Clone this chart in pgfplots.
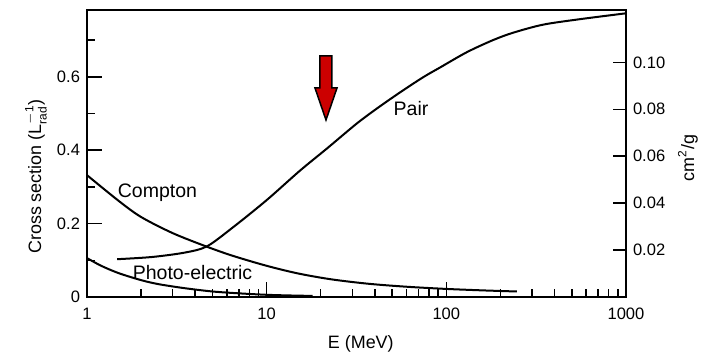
\documentclass[border=0pt]{standalone}
\usepackage{pgfplots}
\pgfplotsset{compat=1.18}
\usepackage{amsmath}
\usepackage{fontspec}
\setmainfont{Liberation Sans}
\definecolor{arrowred}{RGB}{204,0,0}
\begin{document}
\begin{tikzpicture}[x=1bp,y=1bp]
\path[use as bounding box] (-43.5,-28) rectangle (310,148.5);
\begin{axis}[
  scale only axis, width=269.5bp, height=143.5bp,
  at={(0,0)}, anchor=south west,
  xmode=log, xmin=1, xmax=1000,
  tick align=inside,
  /pgf/number format/assume math mode=true,
  tick label style={font=\fontsize{8.3}{10}\selectfont, black},
  label style={font=\fontsize{9}{11}\selectfont},
  axis line style={-, line width=0.75bp, black},
  tick style={line width=0.75bp, black},
  ymin=0, ymax=0.782,
  xtick={1,10,100,1000}, xticklabels={1,10,100,1000},
  minor xtick={2,3,4,5,6,7,8,9,20,30,40,50,60,70,80,90,200,300,400,500,600,700,800,900},
  ytick={0,0.2,0.4,0.6}, yticklabels={0,0.2,0.4,0.6},
  minor ytick={0.1,0.3,0.5,0.7},
  xtick pos=left, ytick pos=left,
  major tick length=7.5bp, minor tick length=4bp,
  xticklabel style={yshift=-2bp},
  xlabel={E (MeV)},
  xlabel style={at={(axis description cs:0.508,-0.165)}, anchor=center},
  ylabel={Cross section (L$^{-\text{1}}_{\text{rad}}$)},
  ylabel style={at={(axis description cs:-0.0946,0.42)}, anchor=center},
]
% Compton
\addplot[smooth, tension=0.5, line width=1bp, black] coordinates {
(1,0.332) (1.5,0.262) (2,0.218) (3,0.174) (4.65,0.137) (6.5,0.112) (10,0.085)
(15,0.064) (23,0.048) (37,0.036) (60,0.028) (100,0.022) (160,0.018) (247,0.015)};
% Photo-electric
\addplot[smooth, tension=0.5, line width=1bp, black] coordinates {
(1,0.106) (1.2,0.085) (1.5,0.065) (2,0.046) (2.5,0.035) (3.5,0.024) (5,0.015)
(7,0.010) (10,0.006) (14,0.004) (18,0.003)};
% Pair
\addplot[smooth, tension=0.5, line width=1bp, black] coordinates {
(1.47,0.103) (2.3,0.109) (3.5,0.121) (4.65,0.138) (6.5,0.190) (10,0.264)
(15.3,0.344) (21.7,0.405) (31.8,0.473) (42,0.517) (57,0.562) (75,0.600) (92,0.625) (130,0.667)
(182,0.700) (235,0.720) (345,0.742) (554,0.757) (1000,0.773)};
\end{axis}
\begin{axis}[
  scale only axis, width=269.5bp, height=143.5bp,
  at={(0,0)}, anchor=south west,
  xmode=log, xmin=1, xmax=1000,
  tick align=inside,
  /pgf/number format/assume math mode=true,
  tick label style={font=\fontsize{8.3}{10}\selectfont, black},
  label style={font=\fontsize{9}{11}\selectfont},
  axis line style={-, line width=0.75bp, black},
  tick style={line width=0.75bp, black},
  ymin=0, ymax=0.1223,
  axis x line=none, axis y line*=right,
  ytick={0.02,0.04,0.06,0.08,0.10}, yticklabels={0.02,0.04,0.06,0.08,0.10},
  major tick length=6.5bp,
  ylabel={cm\textsuperscript{2}/g},
  ylabel style={at={(axis description cs:1.115,0.484)}, anchor=center},
]
\end{axis}
\node[anchor=base, font=\fontsize{9.8}{11}\selectfont] at (35.25,50) {Compton};
\node[anchor=base, font=\fontsize{9.8}{11}\selectfont] at (52.75,9) {Photo-electric};
\node[anchor=base, font=\fontsize{9.8}{11}\selectfont] at (162,90.6) {Pair};
\draw[fill=arrowred, line width=0.75bp, line join=miter]
  (116.5,120.5) -- (122.5,120.5) -- (122.5,104.5) -- (125,104.5) -- (119.5,88.5)
  -- (114,104.5) -- (116.5,104.5) -- cycle;
\end{tikzpicture}
\end{document}
